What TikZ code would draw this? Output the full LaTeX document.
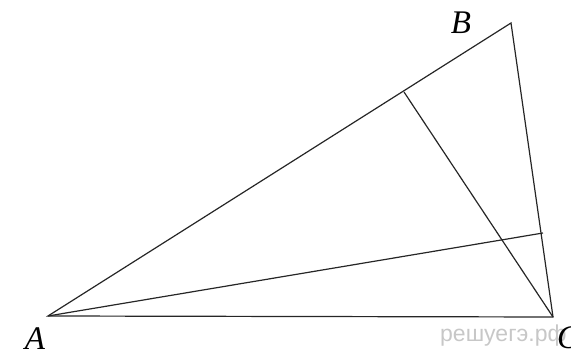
\documentclass[tikz,border=0pt]{standalone}
\usepackage{fontspec}
\setmainfont{Liberation Serif}
\newfontfamily\wmfont{Liberation Sans}
\usepackage{tikz}

\begin{document}
\begin{tikzpicture}[x=1pt, y=-1pt]
\tikzstyle{side} = [line width=1.2pt, black!85]
\tikzstyle{vlabel} = [font=\fontsize{33}{38}\selectfont\itshape, inner sep=0pt]

\useasboundingbox (0,0) rectangle (571,352);

\coordinate (A) at (48,316);
\coordinate (B) at (511,23);
\coordinate (C) at (553,317);
\coordinate (H) at (404,92);
\coordinate (K) at (543,233);

\draw [side] (A) -- (B) -- (C) -- cycle;
\draw [side] (C) -- (H);
\draw [side] (A) -- (K);

\node [font=\wmfont\fontsize{23}{26}\selectfont, text=black!22, anchor=base west, inner sep=0pt] (wm) at (440,342) {решуегэ.рф};
\node [vlabel] (la) at (35,339) {A};
\node [vlabel] (lb) at (461,23) {B};
\node [vlabel, anchor=west] (lc) at (557,338) {C};

\end{tikzpicture}
\end{document}
